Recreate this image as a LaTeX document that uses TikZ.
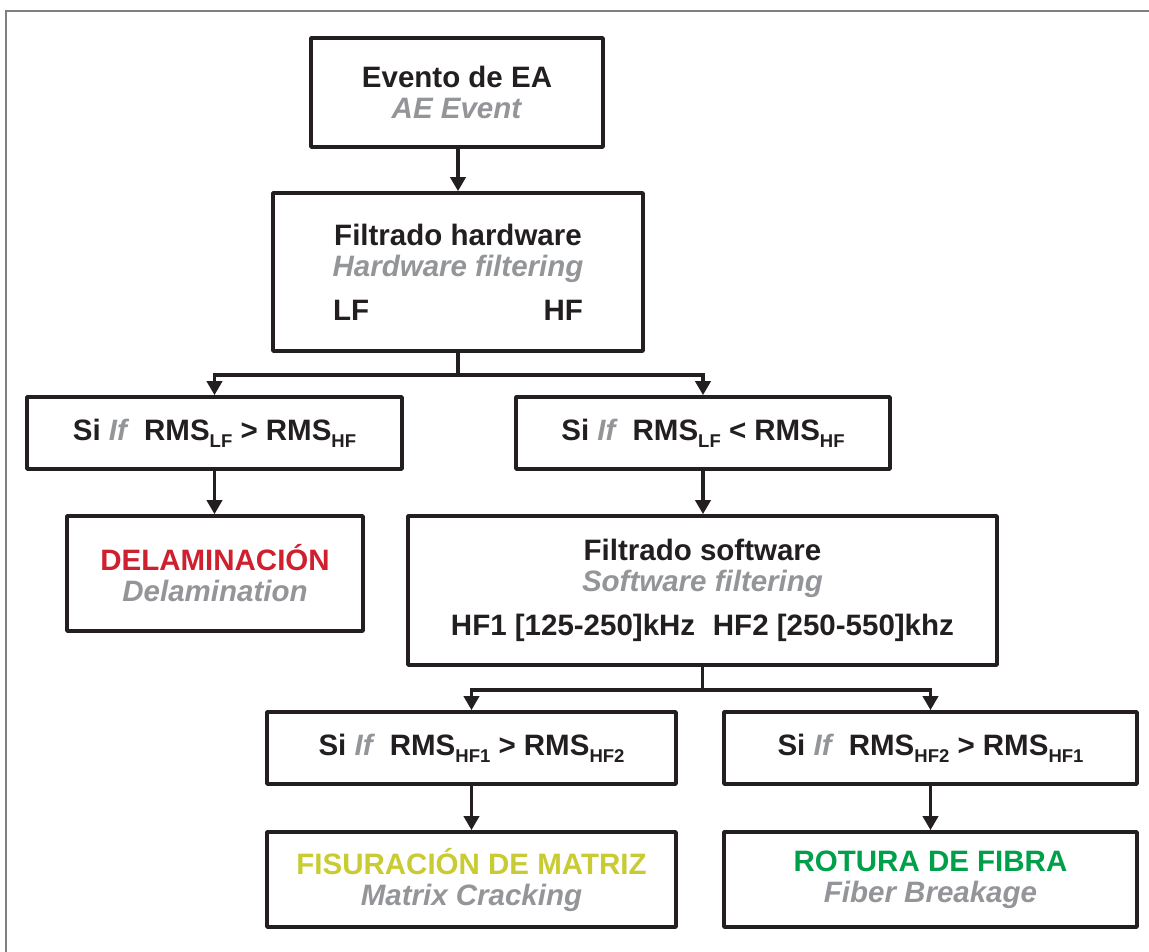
\documentclass[tikz,border=0pt]{standalone}
\usepackage{fontspec}
\setmainfont{Liberation Sans}
\usetikzlibrary{arrows.meta}
\definecolor{ink}{HTML}{231F20}
\definecolor{txtgray}{HTML}{939598}
\definecolor{delred}{HTML}{CF2030}
\definecolor{matyel}{HTML}{C8CC32}
\definecolor{fibgreen}{HTML}{00A04B}
\definecolor{framegray}{HTML}{7F7F7F}
\newcommand\subt[1]{\raisebox{-0.25em}{\fontsize{18.5}{18.5}\selectfont #1}}
\newcommand\en[1]{\textcolor{txtgray}{\textit{#1}}}
\begin{document}
\begin{tikzpicture}[x=1pt,y=-1pt,
  box/.style={draw=ink, line width=3.6pt, line join=round, rectangle, inner sep=0pt, align=center,
    font=\fontsize{29.5}{31}\selectfont\bfseries, text=ink},
  link/.style={draw=ink, line width=3.6pt},
  arr/.style={link, -{Triangle[length=14pt,width=15pt]}}]
\useasboundingbox (0,0) rectangle (1149,952);
\clip (0,0) rectangle (1149,952);
\fill[white] (0,0) rectangle (1149,952);
\draw[framegray, line width=2pt] (6,11) rectangle (1200,1000);

\node[box, minimum width=292pt, minimum height=109pt] (b1) at (457,92.5)
  {Evento de EA\\ \en{AE Event}};
\node[box, minimum width=370pt, minimum height=158pt] (b2) at (458,272)
  {Filtrado hardware\\ \en{Hardware filtering}\\[13pt] \makebox[250pt]{LF\hfill HF}};
\node[box, minimum width=375pt, minimum height=72pt] (b3) at (214.5,433)
  {Si \en{If}\hspace{0.5em}RMS\subt{LF} > RMS\subt{HF}};
\node[box, minimum width=374pt, minimum height=72pt] (b4) at (703,433)
  {Si \en{If}\hspace{0.5em}RMS\subt{LF} < RMS\subt{HF}};
\node[box, minimum width=296pt, minimum height=115pt] (b5) at (215,573.5)
  {\textcolor{delred}{DELAMINACIÓN}\\ \en{Delamination}};
\node[box, minimum width=589pt, minimum height=149pt] (b6) at (702.5,590.5)
  {Filtrado software\\ \en{Software filtering}\\[13pt] HF1 [125-250]kHz\hspace{0.6em}HF2 [250-550]khz};
\node[box, minimum width=409pt, minimum height=72pt] (b7) at (471.5,748)
  {Si \en{If}\hspace{0.5em}RMS\subt{HF1} > RMS\subt{HF2}};
\node[box, minimum width=413pt, minimum height=72pt] (b8) at (930.5,748)
  {Si \en{If}\hspace{0.5em}RMS\subt{HF2} > RMS\subt{HF1}};
\node[box, minimum width=409pt, minimum height=95pt] (b9) at (471.5,879.5)
  {\textcolor{matyel}{FISURACIÓN DE MATRIZ}\\ \en{Matrix Cracking}};
\node[box, minimum width=413pt, minimum height=95pt] (b10) at (930.5,879.5)
  {\textcolor{fibgreen}{ROTURA DE FIBRA}\\ \en{Fiber Breakage}};

\draw[arr] (b2.north |- b1.south) -- (b2.north);
\draw[link] (b2.south) -- ++(0,22) coordinate (j1);
\draw[arr] (j1) -| (b3.north);
\draw[arr] (j1) -| (b4.north);
\draw[arr] (b3.south) -- (b3.south |- b5.north);
\draw[arr] (b4.south) -- (b4.south |- b6.north);
\draw[link] (b6.south) -- ++(0,23) coordinate (j2);
\draw[arr] (j2) -| (b7.north);
\draw[arr] (j2) -| (b8.north);
\draw[arr] (b7.south) -- (b9.north);
\draw[arr] (b8.south) -- (b10.north);
\end{tikzpicture}
\end{document}
